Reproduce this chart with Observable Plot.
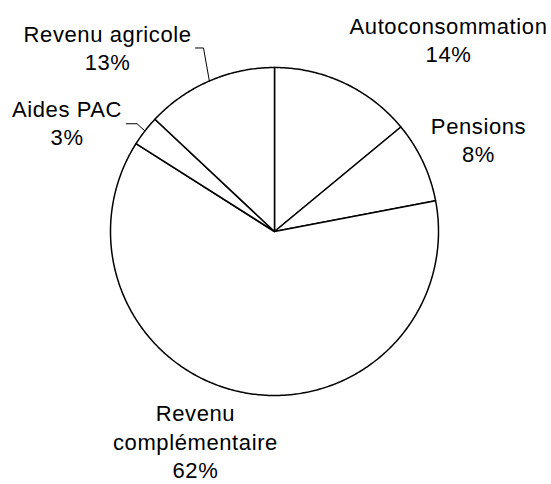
<!DOCTYPE html>
<html>
<head>
<meta charset="utf-8">
<script src="https://cdn.jsdelivr.net/npm/d3@7"></script>
<script src="https://cdn.jsdelivr.net/npm/@observablehq/plot@0.6"></script>
<style>
  html, body { margin: 0; padding: 0; background: #fff; }
  #chart svg { display: block; }
</style>
</head>
<body>
<div id="chart"></div>
<script>
// ---- Data (clockwise from 12 o'clock) ----
const categories = ["Autoconsommation", "Pensions", "Revenu complémentaire", "Aides PAC", "Revenu agricole"];
const values = [14, 8, 62, 3, 13];
const labelLines = [
  ["Autoconsommation"],
  ["Pensions"],
  ["Revenu", "complémentaire"],
  ["Aides PAC"],
  ["Revenu agricole"]
];

// ---- Layout (pie units: radius = 1) ----
const labelPos = [
  [1.061, 1.174],
  [1.244, 0.565],
  [-0.482, -1.275],
  [-1.265, 0.666],
  [-1.018, 1.126]
];
// leader lines: start and elbow (end point is on the arc at slice mid-angle)
const leaders = {
  "Aides PAC": [[-0.904, 0.657], [-0.838, 0.657]],
  "Revenu agricole": [[-0.482, 1.119], [-0.433, 1.119]]
};

const total = d3.sum(values);
const slices = [];
const labels = [];
const leaderPts = [];
let acc = 0;
categories.forEach((name, i) => {
  const f0 = acc / total, f1 = (acc + values[i]) / total;
  acc += values[i];
  const a0 = f0 * 2 * Math.PI, a1 = f1 * 2 * Math.PI;
  const n = Math.max(2, Math.ceil((a1 - a0) / 0.01));
  slices.push({name, x: 0, y: 0});
  for (let k = 0; k <= n; k++) {
    const a = a0 + (a1 - a0) * k / n;
    slices.push({name, x: Math.sin(a), y: Math.cos(a)});
  }
  slices.push({name, x: 0, y: 0});
  const pct = Math.round(values[i] / total * 100) + "%";
  labels.push({text: [...labelLines[i], pct].join("\n"), x: labelPos[i][0], y: labelPos[i][1]});
  if (leaders[name]) {
    const am = (a0 + a1) / 2;
    const pts = [...leaders[name], [Math.sin(am), Math.cos(am)]];
    pts.forEach(p => leaderPts.push({name, x: p[0], y: p[1]}));
  }
});

const cx = 274, cy = 231, r = 164;
const chart = Plot.plot({
  width: 551,
  height: 484,
  margin: 0,
  x: {domain: [-1, 1], range: [cx - r, cx + r], axis: null},
  y: {domain: [-1, 1], range: [cy + r, cy - r], axis: null},
  style: {fontFamily: "'Liberation Sans', Arial, sans-serif", background: "white"},
  marks: [
    Plot.line(slices, {x: "x", y: "y", z: "name", fill: "white", stroke: "black", strokeWidth: 1.5, curve: "linear"}),
    Plot.line(leaderPts, {x: "x", y: "y", z: "name", stroke: "black", strokeWidth: 1}),
    Plot.text(labels, {x: "x", y: "y", text: "text", fontSize: 22, lineHeight: 1.28, fill: "black", textAnchor: "middle"})
  ]
});
chart.style.letterSpacing = "0.6px";
document.getElementById("chart").appendChild(chart);
</script>
</body>
</html>
